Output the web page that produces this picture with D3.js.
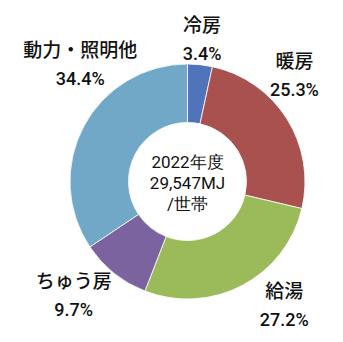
<!DOCTYPE html>
<html><head><meta charset="utf-8">
<script src="https://cdn.jsdelivr.net/npm/d3@7"></script>
<style>
html,body{margin:0;padding:0;background:#fff;}
svg{display:block;}
</style></head>
<body>
<svg id="chart" width="343" height="342"></svg>
<script>
// ---- data ----
const categories = ["冷房", "暖房", "給湯", "ちゅう房", "動力・照明他"];
const values = [3.4, 25.3, 27.2, 9.7, 34.4];
const valueLabels = ["3.4%", "25.3%", "27.2%", "9.7%", "34.4%"];
const centerLines = ["2022年度", "29,547MJ", "/世帯"];

// ---- style / layout ----
const colors = ["#4F74BA", "#A9514F", "#9BBA5A", "#7B63A0", "#71A8C7"];
const labelOffsets = [[0, -6], [-20, -27], [27, -9], [-20, -4], [25, -47]];
const W = 343, H = 342, cx = 187.5, cy = 181.5, rOuter = 117.5, rInner = 59;
const cjk = "'Noto Sans CJK JP','Noto Sans',sans-serif";
const latin = "Roboto,'Liberation Sans',sans-serif";

const svg = d3.select("#chart");
const g = svg.append("g").attr("transform", `translate(${cx},${cy})`);

const data = categories.map((c, i) => ({ cat: c, value: values[i], label: valueLabels[i], i }));
const pie = d3.pie().value(d => d.value).sort(null);
const arcs = pie(data);
const arc = d3.arc().innerRadius(rInner).outerRadius(rOuter);

g.selectAll("path.slice").data(arcs).join("path")
  .attr("class", "slice")
  .attr("d", arc)
  .attr("fill", d => colors[d.data.i])
  .attr("stroke", "#fff")
  .attr("stroke-width", 0.8);

const labelR = [137, 150, 150, 150, 150];
const lab = g.selectAll("g.lab").data(arcs).join("g")
  .attr("class", "lab")
  .attr("transform", d => {
    const a = (d.startAngle + d.endAngle) / 2;
    const r = labelR[d.data.i];
    const o = labelOffsets[d.data.i];
    return `translate(${Math.sin(a) * r + o[0]},${-Math.cos(a) * r + o[1]})`;
  });
lab.append("text")
  .attr("text-anchor", "middle")
  .attr("y", -7)
  .attr("font-family", cjk)
  .attr("font-size", 19)
  .attr("font-weight", 500)
  .attr("fill", "#111")
  .text(d => d.data.cat);
lab.append("text")
  .attr("text-anchor", "middle")
  .attr("y", 21)
  .attr("font-family", latin)
  .attr("font-size", 18)
  .attr("font-weight", 500)
  .attr("fill", "#111")
  .text(d => d.data.label);

g.selectAll("text.center").data(centerLines).join("text")
  .attr("class", "center")
  .attr("text-anchor", "middle")
  .attr("y", (d, i) => -14 + i * 21)
  .attr("font-family", latin)
  .attr("font-size", 17)
  .attr("fill", "#111")
  .text(d => d);
</script>
</body></html>
